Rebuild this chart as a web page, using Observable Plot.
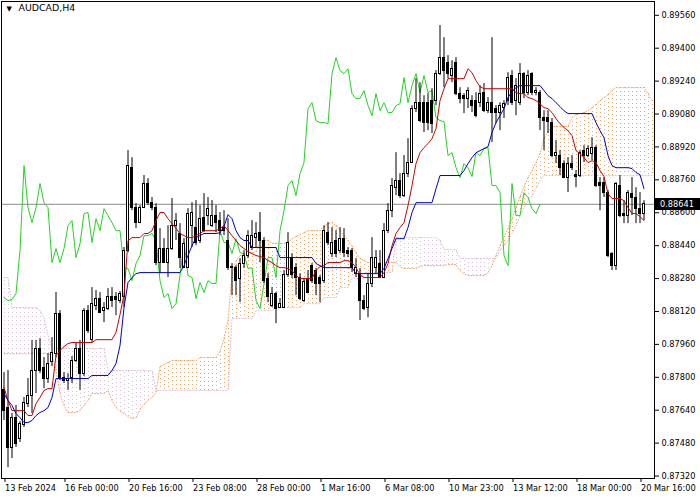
<!DOCTYPE html>
<html><head><meta charset="utf-8">
<script src="https://cdn.jsdelivr.net/npm/d3@7"></script>
<script src="https://cdn.jsdelivr.net/npm/@observablehq/plot@0.6"></script>
<style>
html,body{margin:0;padding:0;background:#fff;}
#chart{width:700px;height:500px;}
</style></head>
<body><div id="chart"></div>
<script>
const symbolTitle = "AUDCAD,H4";
const xTickIdx = [0, 15, 31, 47, 63, 79, 95, 111, 127, 143, 159];
const xTickLabels = ["13 Feb 2024","16 Feb 00:00","20 Feb 16:00","23 Feb 08:00","28 Feb 00:00","1 Mar 16:00","6 Mar 08:00","10 Mar 23:00","13 Mar 12:00","18 Mar 00:00","20 Mar 16:00"];
const yTicks = [0.8732,0.8748,0.8764,0.8780,0.8796,0.8812,0.8828,0.8844,0.8860,0.8876,0.8892,0.8908,0.8924,0.8940,0.8956];
const lastPrice = 0.88641;
const chikouShift = 26;

const opens = [
0.87736,0.87653,0.87454,0.87600,0.87502,0.87566,0.87672,0.87711,0.87833,0.87940,
0.87847,0.87794,0.87872,0.87915,0.88110,0.87799,0.87784,0.87799,0.87881,0.87940,
0.87818,0.88124,0.87979,0.88149,0.88183,0.88124,0.88134,0.88188,0.88188,0.88173,
0.88188,0.88416,0.88819,0.88625,0.88552,0.88625,0.88742,0.88649,0.88625,0.88358,
0.88426,0.88358,0.88426,0.88537,0.88499,0.88333,0.88333,0.88537,0.88528,0.88465,
0.88576,0.88586,0.88537,0.88586,0.88562,0.88528,0.88465,0.88338,0.88329,0.88280,
0.88353,0.88392,0.88431,0.88479,0.88503,0.88465,0.88280,0.88149,0.88207,0.88139,
0.88139,0.88295,0.88382,0.88333,0.88285,0.88173,0.88280,0.88343,0.88319,0.88285,
0.88270,0.88503,0.88401,0.88465,0.88416,0.88474,0.88416,0.88416,0.88304,0.88304,
0.88173,0.88139,0.88256,0.88329,0.88353,0.88285,0.88513,0.88610,0.88722,0.88756,
0.88683,0.88790,0.88844,0.89106,0.89135,0.89135,0.89135,0.89145,0.89145,0.89276,
0.89354,0.89330,0.89267,0.89330,0.89179,0.89169,0.89155,0.89145,0.89145,0.89135,
0.89184,0.89096,0.89135,0.89106,0.89087,0.89111,0.89145,0.89267,0.89145,0.89135,
0.89276,0.89184,0.89276,0.89184,0.89184,0.89062,0.89062,0.89038,0.88878,0.88878,
0.88839,0.88771,0.88839,0.88785,0.88781,0.88902,0.88878,0.88887,0.88917,0.88747,
0.88747,0.88698,0.88401,0.88343,0.88732,0.88596,0.88586,0.88693,0.88674,0.88620,
0.88596];
const highs = [
0.87823,0.87833,0.87624,0.87663,0.87585,0.87702,0.87794,0.87979,0.87979,0.87988,
0.87896,0.87915,0.87993,0.88212,0.88124,0.87823,0.87818,0.87901,0.87964,0.87979,
0.88134,0.88149,0.88236,0.88222,0.88212,0.88163,0.88231,0.88236,0.88212,0.88217,
0.88431,0.88902,0.88868,0.88644,0.88635,0.88781,0.88766,0.88674,0.88644,0.88523,
0.88474,0.88537,0.88669,0.88596,0.88547,0.88474,0.88620,0.88649,0.88659,0.88635,
0.88693,0.88674,0.88659,0.88635,0.88601,0.88610,0.88571,0.88353,0.88343,0.88377,
0.88416,0.88513,0.88562,0.88552,0.88601,0.88479,0.88304,0.88236,0.88212,0.88183,
0.88319,0.88503,0.88401,0.88353,0.88304,0.88280,0.88319,0.88353,0.88329,0.88295,
0.88537,0.88552,0.88528,0.88513,0.88528,0.88523,0.88431,0.88426,0.88377,0.88329,
0.88197,0.88304,0.88479,0.88416,0.88416,0.88547,0.88644,0.88766,0.88892,0.88790,
0.88878,0.88960,0.89121,0.89252,0.89232,0.89169,0.89179,0.89203,0.89291,0.89510,
0.89451,0.89364,0.89339,0.89354,0.89208,0.89179,0.89208,0.89169,0.89184,0.89218,
0.89228,0.89160,0.89451,0.89121,0.89135,0.89145,0.89281,0.89291,0.89252,0.89325,
0.89281,0.89291,0.89281,0.89208,0.89194,0.89096,0.89096,0.89058,0.88951,0.88902,
0.88853,0.88868,0.88878,0.88805,0.88902,0.88926,0.88926,0.88965,0.88926,0.88771,
0.88771,0.88708,0.88406,0.88747,0.88781,0.88659,0.88708,0.88771,0.88722,0.88698,
0.88659];
const lows = [
0.87590,0.87361,0.87405,0.87459,0.87483,0.87556,0.87653,0.87624,0.87721,0.87818,
0.87745,0.87770,0.87852,0.87896,0.87784,0.87770,0.87736,0.87770,0.87872,0.87736,
0.87804,0.88013,0.87969,0.88124,0.88110,0.88066,0.88124,0.88139,0.88100,0.88158,
0.88139,0.88406,0.88610,0.88523,0.88547,0.88620,0.88635,0.88610,0.88343,0.88304,
0.88353,0.88285,0.88416,0.88465,0.88329,0.88329,0.88329,0.88431,0.88440,0.88450,
0.88503,0.88537,0.88528,0.88503,0.88489,0.88489,0.88319,0.88197,0.88197,0.88163,
0.88329,0.88377,0.88416,0.88431,0.88358,0.88256,0.88163,0.88139,0.88061,0.88134,
0.88134,0.88285,0.88280,0.88197,0.88173,0.88163,0.88207,0.88256,0.88197,0.88163,
0.88256,0.88440,0.88382,0.88382,0.88401,0.88382,0.88382,0.88309,0.88285,0.88076,
0.88124,0.88090,0.88236,0.88304,0.88280,0.88280,0.88499,0.88576,0.88683,0.88669,
0.88674,0.88771,0.88839,0.89087,0.89038,0.88990,0.88999,0.88985,0.89121,0.89267,
0.89208,0.89252,0.89232,0.89169,0.89130,0.89082,0.89106,0.89087,0.89062,0.89111,
0.89087,0.89082,0.88941,0.89033,0.88999,0.89058,0.89121,0.89121,0.89072,0.89121,
0.89155,0.89169,0.89169,0.89169,0.88999,0.88902,0.88985,0.88868,0.88839,0.88781,
0.88766,0.88698,0.88805,0.88722,0.88771,0.88844,0.88868,0.88853,0.88722,0.88610,
0.88674,0.88382,0.88319,0.88319,0.88576,0.88547,0.88547,0.88586,0.88547,0.88547,
0.88562];
const closes = [
0.87638,0.87454,0.87600,0.87478,0.87575,0.87677,0.87711,0.87833,0.87940,0.87833,
0.87794,0.87867,0.87920,0.88110,0.87799,0.87784,0.87794,0.87881,0.87940,0.87818,
0.88124,0.88027,0.88158,0.88183,0.88115,0.88139,0.88188,0.88173,0.88178,0.88207,
0.88416,0.88829,0.88625,0.88552,0.88625,0.88742,0.88649,0.88625,0.88358,0.88426,
0.88358,0.88426,0.88537,0.88562,0.88382,0.88450,0.88596,0.88601,0.88455,0.88571,
0.88513,0.88620,0.88586,0.88552,0.88513,0.88513,0.88333,0.88329,0.88270,0.88353,
0.88392,0.88489,0.88489,0.88499,0.88465,0.88270,0.88188,0.88207,0.88134,0.88158,
0.88295,0.88455,0.88295,0.88285,0.88183,0.88261,0.88212,0.88270,0.88256,0.88256,
0.88513,0.88455,0.88455,0.88401,0.88474,0.88406,0.88401,0.88329,0.88333,0.88173,
0.88134,0.88256,0.88382,0.88382,0.88285,0.88513,0.88610,0.88732,0.88756,0.88683,
0.88790,0.88844,0.89106,0.89135,0.89048,0.89038,0.89038,0.89033,0.89276,0.89354,
0.89291,0.89276,0.89300,0.89179,0.89155,0.89155,0.89194,0.89121,0.89072,0.89179,
0.89096,0.89135,0.89087,0.89087,0.89121,0.89130,0.89257,0.89135,0.89218,0.89276,
0.89184,0.89267,0.89184,0.89194,0.89062,0.89048,0.89043,0.88878,0.88892,0.88819,
0.88771,0.88839,0.88819,0.88776,0.88892,0.88878,0.88912,0.88917,0.88732,0.88732,
0.88698,0.88392,0.88343,0.88742,0.88586,0.88586,0.88698,0.88674,0.88620,0.88596,
0.88641];
const tenkan = [
0.87750,0.87687,0.87638,0.87638,0.87638,0.87638,0.87614,0.87614,0.87672,0.87702,
0.87736,0.87745,0.87745,0.87906,0.87930,0.87949,0.87964,0.87969,0.87969,0.87969,
0.87969,0.87969,0.87969,0.87983,0.87983,0.87983,0.87983,0.87983,0.88018,0.88105,
0.88202,0.88465,0.88479,0.88479,0.88479,0.88499,0.88499,0.88513,0.88562,0.88601,
0.88601,0.88571,0.88547,0.88523,0.88499,0.88489,0.88479,0.88479,0.88489,0.88499,
0.88513,0.88513,0.88513,0.88513,0.88523,0.88537,0.88513,0.88489,0.88465,0.88440,
0.88426,0.88411,0.88401,0.88392,0.88387,0.88382,0.88367,0.88358,0.88343,0.88333,
0.88333,0.88329,0.88319,0.88295,0.88280,0.88280,0.88280,0.88280,0.88319,0.88338,
0.88343,0.88358,0.88358,0.88358,0.88358,0.88367,0.88367,0.88358,0.88333,0.88299,
0.88285,0.88285,0.88285,0.88285,0.88285,0.88309,0.88353,0.88440,0.88499,0.88528,
0.88552,0.88635,0.88732,0.88839,0.88892,0.88917,0.88936,0.88960,0.89009,0.89145,
0.89203,0.89252,0.89252,0.89252,0.89252,0.89252,0.89300,0.89281,0.89242,0.89213,
0.89203,0.89203,0.89203,0.89203,0.89203,0.89203,0.89203,0.89203,0.89184,0.89179,
0.89179,0.89160,0.89155,0.89145,0.89130,0.89111,0.89106,0.89087,0.89058,0.89033,
0.89014,0.88999,0.88975,0.88902,0.88887,0.88868,0.88844,0.88853,0.88844,0.88805,
0.88776,0.88693,0.88669,0.88669,0.88669,0.88659,0.88625,0.88596,0.88596,0.88581,
0.88562];
const kijun = [
0.87721,0.87687,0.87663,0.87624,0.87604,0.87580,0.87580,0.87590,0.87614,0.87629,
0.87638,0.87653,0.87702,0.87794,0.87794,0.87794,0.87794,0.87794,0.87794,0.87794,
0.87794,0.87794,0.87809,0.87809,0.87809,0.87809,0.87809,0.87833,0.87867,0.87954,
0.88139,0.88261,0.88285,0.88304,0.88309,0.88309,0.88309,0.88309,0.88309,0.88309,
0.88309,0.88309,0.88309,0.88309,0.88309,0.88343,0.88392,0.88440,0.88479,0.88489,
0.88499,0.88499,0.88499,0.88499,0.88503,0.88533,0.88591,0.88571,0.88513,0.88479,
0.88465,0.88465,0.88431,0.88431,0.88431,0.88431,0.88431,0.88431,0.88431,0.88382,
0.88382,0.88382,0.88382,0.88382,0.88382,0.88382,0.88382,0.88382,0.88353,0.88343,
0.88333,0.88333,0.88333,0.88333,0.88333,0.88333,0.88333,0.88333,0.88304,0.88304,
0.88304,0.88304,0.88304,0.88304,0.88304,0.88329,0.88377,0.88426,0.88474,0.88474,
0.88474,0.88528,0.88601,0.88649,0.88649,0.88649,0.88649,0.88649,0.88717,0.88781,
0.88781,0.88781,0.88781,0.88781,0.88781,0.88805,0.88839,0.88868,0.88892,0.88902,
0.88912,0.88921,0.88990,0.89038,0.89072,0.89106,0.89160,0.89189,0.89208,0.89218,
0.89218,0.89218,0.89218,0.89218,0.89218,0.89194,0.89169,0.89155,0.89135,0.89116,
0.89096,0.89082,0.89082,0.89082,0.89082,0.89082,0.89082,0.89082,0.89038,0.88999,
0.88965,0.88878,0.88829,0.88819,0.88819,0.88819,0.88819,0.88815,0.88795,0.88785,
0.88717];
const senkouA = [
0.87915,0.87915,0.87915,0.87915,0.87915,0.87915,0.87915,0.87915,0.87915,0.87915,
0.87915,0.87915,0.87906,0.87833,0.87721,0.87663,0.87629,0.87629,0.87629,0.87638,
0.87663,0.87687,0.87721,0.87721,0.87721,0.87721,0.87736,0.87687,0.87653,0.87634,
0.87624,0.87609,0.87600,0.87604,0.87643,0.87668,0.87687,0.87702,0.87726,0.87852,
0.87862,0.87872,0.87881,0.87881,0.87881,0.87881,0.87881,0.87881,0.87881,0.87896,
0.87896,0.87896,0.87896,0.87896,0.87925,0.87988,0.88076,0.88304,0.88367,0.88392,
0.88397,0.88406,0.88406,0.88411,0.88455,0.88465,0.88465,0.88450,0.88450,0.88450,
0.88450,0.88455,0.88474,0.88484,0.88494,0.88503,0.88513,0.88513,0.88513,0.88513,
0.88533,0.88547,0.88552,0.88537,0.88513,0.88489,0.88465,0.88435,0.88406,0.88377,
0.88367,0.88358,0.88358,0.88358,0.88358,0.88358,0.88358,0.88358,0.88358,0.88338,
0.88329,0.88329,0.88329,0.88329,0.88338,0.88343,0.88343,0.88343,0.88343,0.88343,
0.88343,0.88348,0.88348,0.88348,0.88319,0.88304,0.88295,0.88295,0.88295,0.88295,
0.88295,0.88309,0.88343,0.88392,0.88440,0.88484,0.88523,0.88571,0.88625,0.88678,
0.88727,0.88771,0.88805,0.88844,0.88887,0.88960,0.88994,0.89019,0.89019,0.89019,
0.89019,0.89019,0.89062,0.89077,0.89082,0.89087,0.89096,0.89111,0.89126,0.89145,
0.89160,0.89174,0.89194,0.89208,0.89208,0.89208,0.89208,0.89208,0.89208,0.89208,
0.89208,0.89179,0.89145];
const senkouB = [
0.88285,0.88285,0.88139,0.88139,0.88139,0.88139,0.88139,0.88139,0.88139,0.88124,
0.88090,0.88003,0.87940,0.87940,0.87940,0.87940,0.87940,0.87940,0.87940,0.87940,
0.87940,0.87940,0.87940,0.87940,0.87940,0.87940,0.87833,0.87833,0.87833,0.87833,
0.87833,0.87833,0.87833,0.87833,0.87833,0.87833,0.87833,0.87833,0.87736,0.87736,
0.87736,0.87736,0.87736,0.87736,0.87736,0.87736,0.87736,0.87736,0.87736,0.87736,
0.87736,0.87736,0.87736,0.87736,0.87736,0.87736,0.87736,0.88086,0.88086,0.88086,
0.88086,0.88086,0.88086,0.88124,0.88124,0.88124,0.88124,0.88124,0.88139,0.88139,
0.88139,0.88139,0.88139,0.88139,0.88139,0.88158,0.88158,0.88158,0.88158,0.88158,
0.88188,0.88188,0.88188,0.88188,0.88236,0.88236,0.88236,0.88280,0.88280,0.88280,
0.88309,0.88309,0.88309,0.88309,0.88309,0.88309,0.88309,0.88309,0.88479,0.88479,
0.88479,0.88479,0.88479,0.88479,0.88479,0.88479,0.88479,0.88479,0.88479,0.88465,
0.88421,0.88421,0.88421,0.88421,0.88377,0.88377,0.88377,0.88377,0.88377,0.88377,
0.88377,0.88377,0.88377,0.88377,0.88416,0.88440,0.88465,0.88499,0.88537,0.88586,
0.88625,0.88659,0.88683,0.88717,0.88756,0.88781,0.88781,0.88781,0.88781,0.88781,
0.88781,0.88781,0.88781,0.88781,0.88781,0.88781,0.88781,0.88781,0.88781,0.88781,
0.88781,0.88781,0.88781,0.88781,0.88781,0.88781,0.88781,0.88781,0.88781,0.88781,
0.88781,0.88781,0.88781];

const nBars = opens.length;
[highs, lows, closes, tenkan, kijun].forEach((a, k) => { if (a.length !== nBars) throw new Error("length mismatch " + k + ": " + a.length); });
if (senkouA.length !== senkouB.length) throw new Error("senkou mismatch " + senkouA.length + " " + senkouB.length);

const candles = opens.map((o, i) => ({i, open: o, high: highs[i], low: lows[i], close: closes[i]}));
const bulls = candles.filter(d => d.close >= d.open);
const bears = candles.filter(d => d.close < d.open);
const cloud = senkouA.map((a, i) => ({i, a, b: senkouB[i]}));
const cloudUp = cloud.filter(d => d.a >= d.b);
const cloudDown = cloud.filter(d => d.a < d.b);
const chikou = closes.slice(chikouShift).map((c, i) => ({i, c}));
const tk = tenkan.map((v, i) => ({i, v}));
const kj = kijun.map((v, i) => ({i, v}));

const W = 700, H = 500, MR = 46;
const font = "DejaVu Sans";
const sandy = "#f4a460", thistle = "#d8bfd8";
const bodyHalf = 0.3;

const chart = Plot.plot({
  width: W, height: H,
  marginLeft: 1, marginRight: MR, marginTop: 1, marginBottom: 22,
  x: {type: "linear", domain: [-0.625, 162.625]},
  y: {domain: [0.87308, 0.89627]},
  style: {fontFamily: font, fontSize: "8.2px", background: "white", color: "black", overflow: "visible"},
  marks: [
    Plot.ruleX(cloudUp, {x: "i", y1: "a", y2: "b", stroke: sandy, strokeDasharray: "1,3", strokeWidth: 1, shapeRendering: "crispEdges", clip: true}),
    Plot.ruleX(cloudDown, {x: "i", y1: "a", y2: "b", stroke: thistle, strokeDasharray: "1,3", strokeWidth: 1, shapeRendering: "crispEdges", clip: true}),
    Plot.line(cloud, {x: "i", y: "a", stroke: sandy, strokeDasharray: "1,2", strokeWidth: 1, clip: true}),
    Plot.line(cloud, {x: "i", y: "b", stroke: thistle, strokeDasharray: "1,2", strokeWidth: 1, clip: true}),
    Plot.ruleY([lastPrice], {stroke: "#8a8a8a", strokeWidth: 1}),
    Plot.line(chikou, {x: "i", y: "c", stroke: "#22d422", strokeWidth: 1}),
    Plot.ruleX(candles, {x: "i", y1: "low", y2: "high", stroke: "black", strokeWidth: 1}),
    Plot.rect(bulls, {x1: d => d.i - bodyHalf, x2: d => d.i + bodyHalf, y1: "open", y2: "close",
      fill: "white", stroke: "black", strokeWidth: 1, shapeRendering: "crispEdges"}),
    Plot.rect(bears, {x1: d => d.i - bodyHalf, x2: d => d.i + bodyHalf, y1: "open", y2: "close",
      fill: "black", stroke: "black", strokeWidth: 1, shapeRendering: "crispEdges"}),
    Plot.line(tk, {x: "i", y: "v", stroke: "#d00000", strokeWidth: 1}),
    Plot.line(kj, {x: "i", y: "v", stroke: "#0000cc", strokeWidth: 1}),
    Plot.frame({stroke: "black"}),
    Plot.axisY({anchor: "right", ticks: yTicks, tickFormat: d => d.toFixed(5), tickSize: 4, tickPadding: 3, label: null}),
    Plot.axisX({anchor: "bottom", ticks: xTickIdx, tickFormat: v => xTickLabels[xTickIdx.indexOf(v)], tickSize: 4, tickPadding: 3, textAnchor: "start", dx: 1, label: null}),
    Plot.text(["▼"], {frameAnchor: "top-left", dx: 5, dy: 5, text: d => d, lineAnchor: "top", textAnchor: "start", fontSize: 7}),
    Plot.text([symbolTitle], {frameAnchor: "top-left", dx: 17, dy: 3, text: d => d, lineAnchor: "top", textAnchor: "start", fontSize: 9.4})
  ]
});

const ys = chart.scale("y");
const yy = ys.apply(lastPrice);
const xr = W - MR;
const g = d3.select(chart).append("g");
g.append("rect").attr("x", xr + 1).attr("y", Math.round(yy) - 6).attr("width", MR - 1).attr("height", 12).attr("fill", "black");
g.append("text").attr("x", xr + 6).attr("y", Math.round(yy)).attr("dy", "0.36em").attr("fill", "white")
  .attr("text-anchor", "start")
  .style("font-family", font).style("font-size", "8.2px").text(lastPrice.toFixed(5));

document.getElementById("chart").appendChild(chart);
</script>
</body></html>
